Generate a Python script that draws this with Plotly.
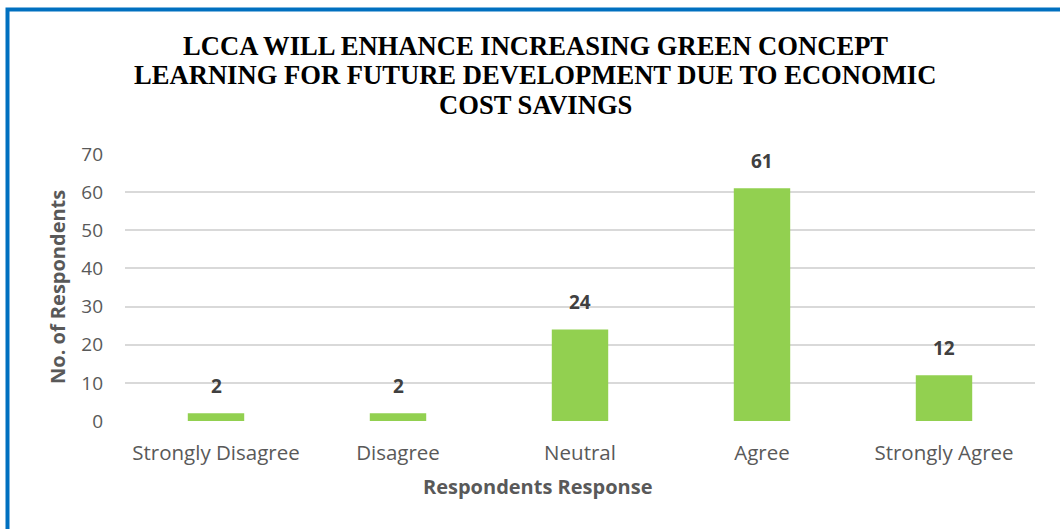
import plotly.graph_objects as go

categories = ["Strongly Disagree", "Disagree", "Neutral", "Agree", "Strongly Agree"]
respondents = [2, 2, 24, 61, 12]
y_ticks = [0, 10, 20, 30, 40, 50, 60, 70]

title_lines = [
    "LCCA WILL ENHANCE INCREASING GREEN CONCEPT",
    "LEARNING FOR FUTURE DEVELOPMENT DUE TO ECONOMIC",
    "COST SAVINGS",
]

W, H = 1060, 529
ML, MR, MT, MB = 125, 25, 154, 108
plot_w = W - ML - MR
plot_h = H - MT - MB

sans = "'Open Sans', Carlito, Calibri, sans-serif"
serif = "'Liberation Serif', 'Times New Roman', serif"
grey = "#595959"

fig = go.Figure(
    go.Bar(
        x=categories,
        y=respondents,
        marker=dict(color="#92D050", line=dict(width=0)),
        width=0.31,
        hoverinfo="x+y",
    )
)

# value labels above each bar
for cat, val in zip(categories, respondents):
    fig.add_annotation(
        x=cat, y=val, text=f"<b>{val}</b>", showarrow=False,
        yanchor="bottom", yshift=12,
        font=dict(family=sans, size=19, color="#404040"),
    )

def px_x(px):
    return (px - ML) / plot_w

def px_y(py):
    return (H - MB - py) / plot_h

# title, one annotation per line for tight line spacing
for i, line in enumerate(title_lines):
    fig.add_annotation(
        x=px_x(535), y=px_y(45.5 + 29.8 * i), xref="paper", yref="paper",
        text=f"<b>{line}</b>", showarrow=False,
        xanchor="center", yanchor="middle",
        font=dict(family=serif, size=26.6, color="black"),
    )

# axis titles
fig.add_annotation(
    x=px_x(537), y=px_y(486), xref="paper", yref="paper",
    text="<b>Respondents Response</b>", showarrow=False,
    xanchor="center", yanchor="middle",
    font=dict(family=sans, size=20, color=grey),
)
fig.add_annotation(
    x=px_x(57), y=px_y(287), xref="paper", yref="paper",
    text="<b>No. of Respondents</b>", showarrow=False, textangle=-90,
    xanchor="center", yanchor="middle",
    font=dict(family=sans, size=20, color=grey),
)

# chart frame
fig.add_shape(
    type="rect", xref="paper", yref="paper",
    x0=px_x(7.5), x1=px_x(1200), y0=px_y(700), y1=px_y(9.5),
    line=dict(color="#0070C0", width=4), fillcolor="rgba(0,0,0,0)",
    layer="above",
)

fig.update_layout(
    width=W, height=H,
    margin=dict(l=ML, r=MR, t=MT, b=MB, pad=0),
    paper_bgcolor="white", plot_bgcolor="white",
    showlegend=False,
    bargap=0.69,
    xaxis=dict(
        showgrid=False, zeroline=False, showline=False,
        ticks="", ticklabelstandoff=17,
        tickfont=dict(family=sans, size=20.5, color=grey),
    ),
    yaxis=dict(
        range=[0, 70], tickvals=y_ticks,
        showgrid=True, gridcolor="#D9D9D9", gridwidth=1.5,
        zeroline=False, showline=False, ticks="",
        ticklabelstandoff=21,
        tickfont=dict(family=sans, size=19, color=grey),
    ),
)

fig.write_html("out.html")
